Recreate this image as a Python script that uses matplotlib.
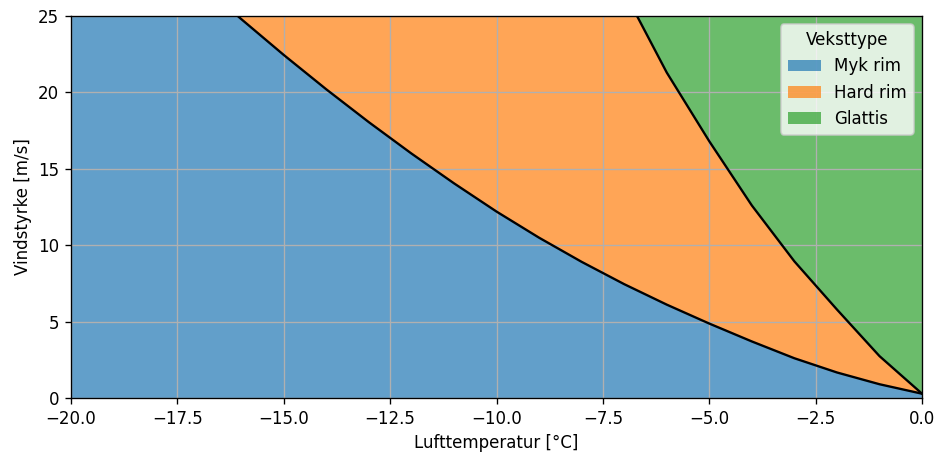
import numpy as np
import matplotlib.pyplot as plt
from matplotlib.patches import Patch

# Lufttemperatur [°C]
temperatur = np.arange(-20, 1, 1)

# Grense myk rim / hard rim [m/s] (lest av figuren)
grense_myk_hard = [35.2, 32.45, 29.8, 27.25, 24.8, 22.45, 20.2, 18.05, 16.0, 14.05,
                   12.2, 10.49, 8.91, 7.45, 6.11, 4.87, 3.70, 2.60, 1.67, 0.90, 0.28]

# Grense hard rim / glattis [m/s] (over 25 utenfor figuren)
grense_hard_glatt = [90.0, 84.0, 78.0, 72.0, 66.0, 60.0, 54.0, 48.0, 43.0, 38.0,
                     33.0, 29.5, 32.3, 26.6, 21.3, 16.8, 12.6, 8.94, 5.79, 2.74, 0.28]

veksttyper = ["Myk rim", "Hard rim", "Glattis"]
farger = ["tab:blue", "tab:orange", "tab:green"]


def main():
    fig, ax = plt.subplots(figsize=(938 / 120, 452 / 120), dpi=120)
    fig.subplots_adjust(left=0.0757, right=0.983, top=0.9646, bottom=0.1195)

    t = temperatur
    y1 = np.array(grense_myk_hard)
    y2 = np.array(grense_hard_glatt)
    ymax = 25

    # områdene for hver veksttype
    ax.fill_between(t, 0, y1, color=farger[0], alpha=0.7, linewidth=0)
    ax.fill_between(t, y1, y2, color=farger[1], alpha=0.7, linewidth=0)
    ax.fill_between(t, y2, ymax, where=t >= -8, color=farger[2], alpha=0.7, linewidth=0)
    ax.plot(t, y1, color="black", linewidth=1.4)
    ax.plot(t, y2, color="black", linewidth=1.4)

    ax.set_xlim(-20, 0)
    ax.set_ylim(0, ymax)
    ax.grid(True)
    ax.set_xlabel("Lufttemperatur [°C]")
    ax.set_ylabel("Vindstyrke [m/s]")

    handles = [Patch(facecolor=c, alpha=0.7, label=n) for c, n in zip(farger, veksttyper)]
    ax.legend(handles=handles, title="Veksttype", loc="upper right")

    fig.savefig("out.png", dpi=120)


if __name__ == "__main__":
    main()
